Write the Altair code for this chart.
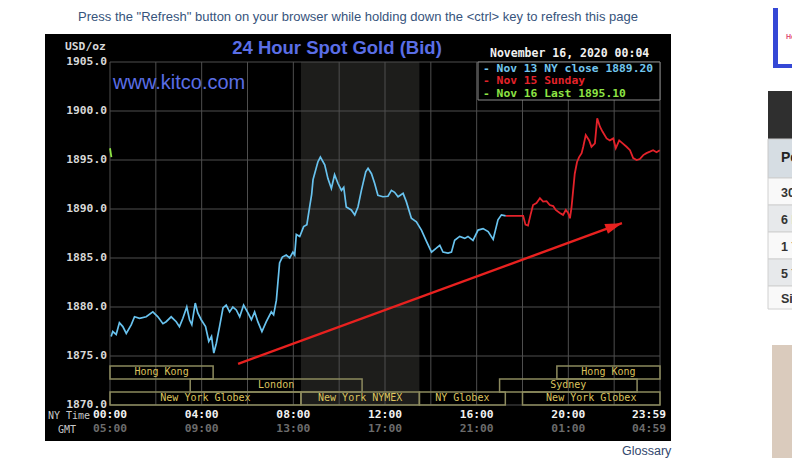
import altair as alt
import pandas as pd

# ---------------- data ----------------
blue_hours = [0.05,0.12,0.27,0.41,0.56,0.71,0.93,1.07,1.29,1.58,
              1.87,2.09,2.31,2.45,2.67,2.89,3.03,3.18,3.35,3.47,
              3.57,3.72,3.83,3.98,4.17,4.31,4.43,4.53,4.64,4.78,
              4.93,5.07,5.22,5.36,5.51,5.66,5.83,6.02,6.17,6.31,
              6.45,6.63,6.82,7.04,7.14,7.26,7.40,7.52,7.69,7.84,
              7.98,8.06,8.13,8.28,8.45,8.59,8.71,8.80,8.86,8.93,
              9.07,9.18,9.37,9.51,9.66,9.80,9.95,10.10,10.20,10.31,
              10.53,10.68,10.82,10.97,11.16,11.26,11.41,11.55,11.69,11.91,
              12.13,12.28,12.42,12.57,12.79,12.93,13.15,13.37,13.59,13.81,
              14.03,14.24,14.39,14.53,14.75,14.90,15.04,15.26,15.48,15.62,
              15.84,16.06,16.28,16.50,16.72,16.93,17.08,17.27]
blue_prices = [1877.0,1877.5,1877.2,1878.4,1878.0,1877.3,1878.2,1879.0,1878.85,1879.0,
               1879.5,1879.0,1878.3,1878.5,1879.0,1878.5,1878.0,1878.85,1880.0,1878.7,
               1878.2,1880.4,1879.4,1878.7,1878.0,1876.5,1877.0,1875.3,1876.3,1878.0,
               1879.9,1880.2,1879.5,1880.0,1879.7,1879.0,1880.2,1879.4,1878.7,1879.5,
               1878.5,1877.5,1878.5,1879.5,1879.2,1880.7,1884.5,1885.1,1885.3,1885.0,
               1885.6,1885.3,1887.4,1887.2,1888.2,1888.4,1890.2,1891.5,1893.0,1893.6,
               1894.8,1895.3,1894.5,1893.1,1892.1,1893.5,1892.6,1891.9,1892.2,1890.2,
               1889.9,1889.4,1890.2,1891.9,1893.8,1894.15,1893.6,1892.6,1891.4,1891.25,
               1891.3,1891.9,1891.7,1891.25,1891.6,1890.75,1889.05,1888.7,1887.85,1886.7,
               1885.6,1886.0,1886.3,1885.6,1885.5,1885.6,1886.8,1887.2,1887.0,1887.2,
               1886.8,1887.85,1888.0,1887.7,1886.9,1888.9,1889.4,1889.3]

red_hours = [17.27,18.03,18.13,18.24,18.35,18.46,18.61,18.76,18.90,19.05,
             19.19,19.34,19.45,19.63,19.77,19.89,19.99,20.07,20.14,20.21,
             20.28,20.38,20.47,20.58,20.65,20.76,20.91,21.01,21.16,21.26,
             21.38,21.49,21.67,21.81,21.96,22.07,22.22,22.37,22.54,22.69,
             22.83,22.98,23.12,23.27,23.41,23.56,23.70,23.85,23.99]
red_prices = [1889.3,1889.3,1888.4,1888.3,1889.4,1890.4,1890.6,1891.1,1890.75,1890.8,
              1890.4,1890.3,1889.9,1889.6,1889.4,1889.9,1889.6,1889.05,1890.2,1891.9,
              1893.6,1894.8,1895.3,1895.7,1896.35,1897.55,1897.0,1896.35,1896.7,1899.25,
              1898.4,1897.9,1897.2,1897.0,1897.2,1896.2,1897.0,1896.7,1896.35,1896.0,
              1895.2,1895.0,1895.1,1895.5,1895.7,1895.85,1896.0,1895.8,1896.0]

green_hours = [0.0, 0.06]
green_prices = [1896.2, 1895.3]

session_names = ["Hong Kong", "London", "New York Globex", "New York NYMEX",
                 "NY Globex", "New York Globex", "Sydney", "Hong Kong"]
session_start = [0.0, 3.5, 0.0, 8.333, 13.5, 18.0, 17.0, 19.5]
session_end = [4.5, 11.0, 8.333, 13.5, 17.25, 24.0, 23.0, 24.0]
session_row = [1, 2, 3, 3, 3, 3, 2, 1]

nymex_start, nymex_end = [8.333], [13.5]

y_ticks = [1870, 1875, 1880, 1885, 1890, 1895, 1900, 1905]
x_grid = list(range(0, 25, 2))
x_tick_hours = [0, 4, 8, 12, 16, 20, 24]
ny_labels = ["00:00", "04:00", "08:00", "12:00", "16:00", "20:00", "23:59"]
gmt_labels = ["05:00", "09:00", "13:00", "17:00", "21:00", "01:00", "04:59"]

arrow_hours = [5.59, 22.34]
arrow_prices = [1874.2, 1888.55]

legend_texts = ["- Nov 13 NY close 1889.20", "- Nov 15 Sunday", "- Nov 16 Last 1895.10"]
legend_colors = ["#72c6ee", "#e3222a", "#8ee445"]

side_rows = ["30 D", "6 M", "1 Ye", "5 Ye", "Sin"]

# ---------------- chart ----------------
W, H = 550, 343
MONO = "DejaVu Sans Mono"
SANS = "Liberation Sans"
xs = alt.Scale(domain=[0, 24], nice=False, zero=False)
ys = alt.Scale(domain=[1870, 1905], nice=False, zero=False)


def X(f):
    return alt.X(f"{f}:Q", scale=xs, axis=None)


def Y(f):
    return alt.Y(f"{f}:Q", scale=ys, axis=None)


one = pd.DataFrame({"k": [0]})


def box(x, x2, y, y2, **kw):
    return alt.Chart(one).mark_rect(**kw).encode(
        x=alt.value(x), x2=alt.value(x2), y=alt.value(y), y2=alt.value(y2))


def label(text, x, y, **kw):
    return alt.Chart(one).mark_text(text=text, **kw).encode(x=alt.value(x), y=alt.value(y))


layers = []
# page decorations
layers.append(box(-65, 561, -28, 379, color="#000000"))
layers.append(label('Press the "Refresh" button on your browser while holding down the <ctrl> key to refresh this page',
                    248, -45, font=SANS, fontSize=13, color="#37547c", align="center", baseline="middle"))
layers.append(label("Glossary", 512, 389, font=SANS, fontSize=12.5, color="#33486e", align="left", baseline="middle"))
# right-hand page bits
layers.append(box(663, 690, -62, 6, color="#3548d6"))
layers.append(box(668, 690, -57, 2, color="#ffffff"))
layers.append(label("Hel", 676, -25, font=SANS, fontSize=7, fontWeight="bold", color="#e0507a", align="left", baseline="middle"))
layers.append(box(658, 690, 29, 77, color="#2f2f2f"))
layers.append(box(658, 690, 77, 116, color="#d6dde3", stroke="#c8c8c8", strokeWidth=1))
layers.append(label("Per", 671, 96, font=SANS, fontSize=14, fontWeight="bold", color="#222222", align="left", baseline="middle"))
row_fills = ["#f9f9f9", "#e7e9eb"]
row_top = 116
row_h = [27, 27, 27, 27, 23]
for i, name in enumerate(side_rows):
    layers.append(box(658, 690, row_top, row_top + row_h[i], color=row_fills[i % 2], stroke="#d0d0d0", strokeWidth=1))
    layers.append(label(name, 671, row_top + row_h[i] / 2 + 1, font=SANS, fontSize=12.5, fontWeight="bold",
                        color="#333333", align="left", baseline="middle"))
    row_top += row_h[i]
layers.append(box(662, 690, 283, 396, color="#dacbbd"))

# NYMEX shaded band
band = alt.Chart(pd.DataFrame({"s": nymex_start, "e": nymex_end})).mark_rect(color="#1d1d1b").encode(
    x=X("s"), x2="e", y=alt.value(0), y2=alt.value(H))
layers.append(band)

# grid
vgrid = alt.Chart(pd.DataFrame({"h": x_grid})).mark_rule(color="#4e4e4e", strokeWidth=1).encode(
    x=X("h"), y=alt.value(0), y2=alt.value(H))
hgrid = alt.Chart(pd.DataFrame({"p": y_ticks})).mark_rule(color="#4e4e4e", strokeWidth=1).encode(
    y=Y("p"), x=alt.value(0), x2=alt.value(W))
layers += [vgrid, hgrid]

# sessions
ROW_H = 1.33
sess = pd.DataFrame({"name": session_names, "s": session_start, "e": session_end, "row": session_row})
sess["top"] = 1870 + ROW_H * (4 - sess["row"])
sess["bot"] = sess["top"] - ROW_H
sess["mid_p"] = sess["top"] - ROW_H / 2
sess["mid_h"] = (sess["s"] + sess["e"]) / 2
sess_box = alt.Chart(sess).mark_rect(fillOpacity=0, stroke="#8c8a5e", strokeWidth=1.5).encode(
    x=X("s"), x2="e", y=Y("top"), y2="bot")
sess_txt = alt.Chart(sess).mark_text(font=MONO, fontSize=10, color="#dcc35e", baseline="middle").encode(
    x=X("mid_h"), y=Y("mid_p"), text="name:N")
layers += [sess_box, sess_txt]

# legend box
layers.append(box(368, 550, 0, 38, color="#000000", stroke="#8a8a8a", strokeWidth=1))
for i, (t, c) in enumerate(zip(legend_texts, legend_colors)):
    layers.append(label(t, 373, 6.5 + 12.5 * i, font=MONO, fontSize=11.3, fontWeight="bold",
                        color=c, align="left", baseline="middle"))
layers.append(label("November 16, 2020 00:04", 380, -8, font=MONO, fontSize=11.5, fontWeight="bold",
                    color="#f0f0f0", align="left", baseline="middle"))

# titles
layers.append(label("24 Hour Spot Gold (Bid)", 227, -14, font=SANS, fontSize=18.5, fontWeight="bold",
                    color="#5a6ee6", align="center", baseline="middle"))
layers.append(label("www.kitco.com", 3, 21, font=SANS, fontSize=20, color="#5a6ee6", align="left", baseline="middle"))
layers.append(label("USD/oz", -45, -15, font=MONO, fontSize=11.3, fontWeight="bold", color="#d8d8d8",
                    align="left", baseline="middle"))
layers.append(label("NY Time", -62, 354, font=MONO, fontSize=10, color="#c8c8c8", align="left", baseline="middle"))
layers.append(label("GMT", -52, 368, font=MONO, fontSize=10, color="#c8c8c8", align="left", baseline="middle"))

# axis labels
yl = pd.DataFrame({"p": y_ticks, "t": [f"{v:.1f}" for v in y_ticks]})
layers.append(alt.Chart(yl).mark_text(font=MONO, fontSize=11.3, fontWeight="bold", color="#d8d8d8",
                                      align="right", baseline="middle").encode(
    x=alt.value(-3), y=Y("p"), text="t:N"))
xl = pd.DataFrame({"h": x_tick_hours, "ny": ny_labels, "gmt": gmt_labels})
mid = xl[xl["h"] < 24]
last = xl[xl["h"] >= 24]
layers.append(alt.Chart(mid).mark_text(font=MONO, fontSize=11.3, fontWeight="bold", color="#f2f2f2",
                                       baseline="middle").encode(x=X("h"), y=alt.value(353), text="ny:N"))
layers.append(alt.Chart(mid).mark_text(font=MONO, fontSize=11.3, fontWeight="bold", color="#6c6c6c",
                                       baseline="middle").encode(x=X("h"), y=alt.value(367), text="gmt:N"))
layers.append(alt.Chart(last).mark_text(font=MONO, fontSize=11.3, fontWeight="bold", color="#f2f2f2",
                                        baseline="middle", align="right", dx=6).encode(x=X("h"), y=alt.value(353), text="ny:N"))
layers.append(alt.Chart(last).mark_text(font=MONO, fontSize=11.3, fontWeight="bold", color="#6c6c6c",
                                        baseline="middle", align="right", dx=6).encode(x=X("h"), y=alt.value(367), text="gmt:N"))

# price lines
blue = alt.Chart(pd.DataFrame({"h": blue_hours, "p": blue_prices})).mark_line(
    color="#68c2ee", strokeWidth=1.7).encode(x=X("h"), y=Y("p"))
red = alt.Chart(pd.DataFrame({"h": red_hours, "p": red_prices})).mark_line(
    color="#e3222a", strokeWidth=1.8).encode(x=X("h"), y=Y("p"))
green = alt.Chart(pd.DataFrame({"h": green_hours, "p": green_prices})).mark_line(
    color="#8ee445", strokeWidth=1.8).encode(x=X("h"), y=Y("p"))
layers += [blue, red, green]

# red arrow annotation
arr = pd.DataFrame({"h0": [arrow_hours[0]], "p0": [arrow_prices[0]], "h1": [arrow_hours[1]], "p1": [arrow_prices[1]]})
layers.append(alt.Chart(arr).mark_rule(color="#e8211f", strokeWidth=2.4).encode(
    x=X("h0"), y=Y("p0"), x2="h1", y2="p1"))
layers.append(alt.Chart(arr).mark_point(shape="M0,0L0.65,2.1L-0.65,2.1Z", filled=True, fill="#e8211f",
                                        strokeWidth=0, opacity=1, size=256, angle=70).encode(
    x=X("h1"), y=Y("p1")))

chart = alt.layer(*layers).properties(
    width=W, height=H,
    padding={"left": 102, "top": 54, "right": 132, "bottom": 53},
    autosize=alt.AutoSizeParams(type="none"),
    background="#ffffff",
).configure_view(strokeWidth=0)

chart.save("out.html", embed_options={"renderer": "svg", "actions": False})
